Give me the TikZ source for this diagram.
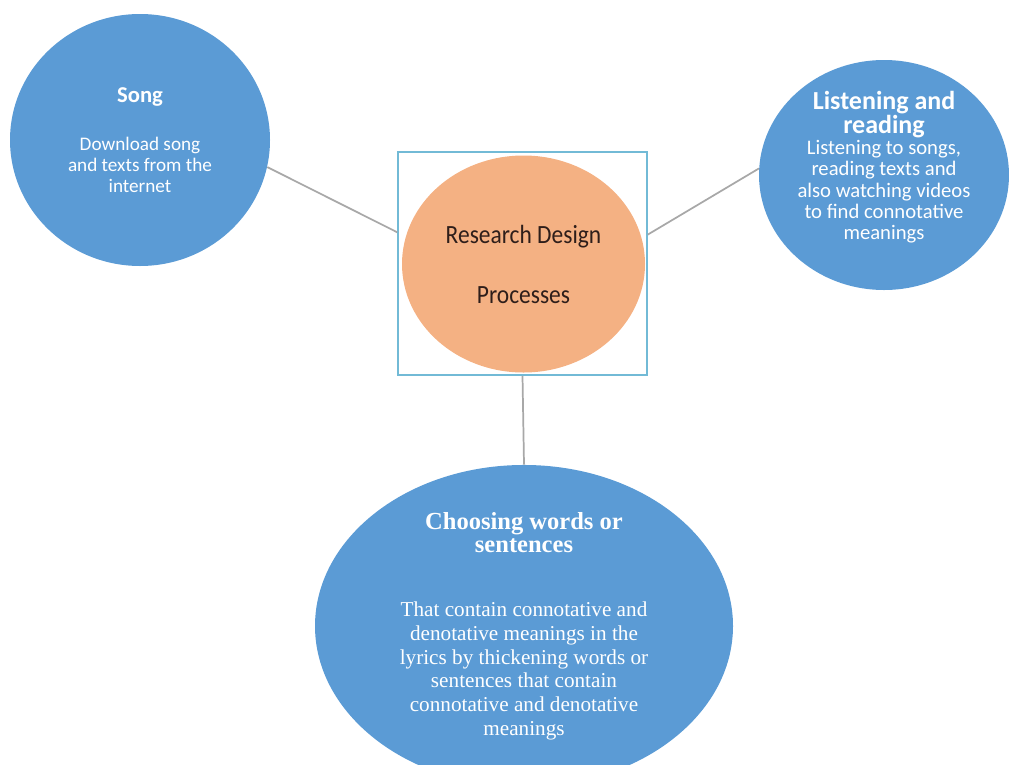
\documentclass[tikz,border=0pt]{standalone}
\usepackage{fontspec}
\setmainfont{Carlito}
\newfontfamily\timesfont{Liberation Serif}
\usetikzlibrary{shapes.geometric}
\definecolor{bubble}{HTML}{5B9BD5}
\definecolor{peach}{HTML}{F4B183}
\definecolor{frameblue}{HTML}{72BAD6}
\definecolor{linkgray}{HTML}{A8A8A8}
\definecolor{coretext}{HTML}{2E1E1A}
\newcommand{\headA}[1]{{\bfseries\fontsize{19.5}{16.5}\selectfont #1}}
\newcommand{\headB}[1]{{\bfseries\fontsize{18.4}{20}\selectfont #1}}

\begin{document}
\begin{tikzpicture}[
   x=0.75pt,y=-0.75pt,
   bubble/.style={ellipse,fill=bubble,text=white,align=center,inner sep=0pt},
   link/.style={draw=linkgray,line width=1.3pt},
   every node/.style={align=center}]
\useasboundingbox (0,0) rectangle (1009,764);
% centre
\node[draw=frameblue,line width=1.2pt,minimum width=186.75pt,minimum height=167.25pt,inner sep=0pt] (frame) at (522.5,263.5) {};
\node[ellipse,fill=peach,minimum width=182.25pt,minimum height=162.75pt,inner sep=0pt,text=coretext,
      font=\fontsize{17.6}{45}\selectfont] (core) at (523.5,264) {\scalebox{1}[1.12]{Research Design}\\\scalebox{1}[1.12]{Processes}};
% outer bubbles
\node[bubble,minimum width=195pt,minimum height=189pt,font=\fontsize{14.4}{15.75}\selectfont] (song) at (140,140)
   {{\bfseries\fontsize{17}{20}\selectfont Song}\\[20pt]Download song\\and texts from the\\internet};
\node[bubble,minimum width=187.5pt,minimum height=172.5pt,
      label={[text=white,yshift=6pt,font=\fontsize{15.5}{16}\selectfont]center:\headA{Listening and}\\[0pt]\headA{reading}\\[0pt]Listening to songs,\\reading texts and\\also watching videos\\to find connotative\\meanings}] (listen) at (884,175) {};
\node[bubble,minimum width=313.5pt,minimum height=213pt,font=\timesfont\fontsize{15.9}{17.8}\selectfont] (choose) at (524,626)
   {\headB{Choosing words or}\\\headB{sentences}\\[30pt]That contain connotative and\\denotative meanings in the\\lyrics by thickening words or\\sentences that contain\\connotative and denotative\\meanings};
% links
\draw[link] (song.-12) -- (frame.166);
\draw[link] (frame.13) -- (listen.177);
\draw[link] (frame.south) -- (choose.north);
\end{tikzpicture}
\end{document}
